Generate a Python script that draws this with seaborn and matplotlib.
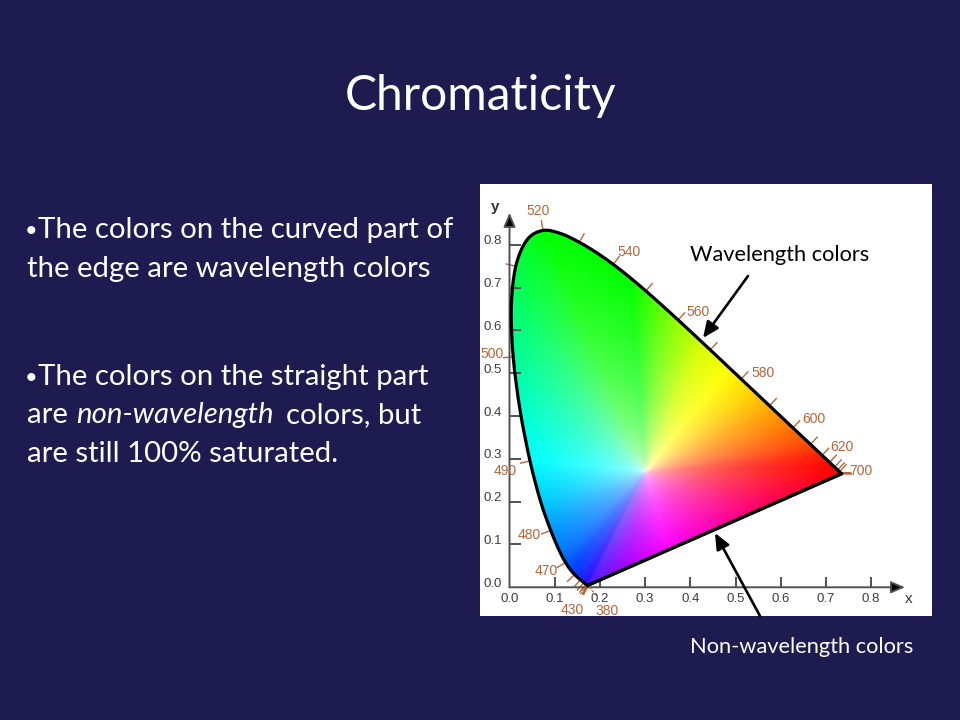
import numpy as np
import pandas as pd
import matplotlib
matplotlib.use('Agg')
import matplotlib.pyplot as plt
from matplotlib.path import Path
from matplotlib.patches import PathPatch, FancyArrowPatch
from matplotlib.colors import to_rgb
import seaborn as sns

# CIE 1931 spectral locus (x, y) every 5 nm
wavelengths = list(range(380, 705, 5))
locus_x = [0.1741, 0.1740, 0.1738, 0.1736, 0.1733, 0.1730, 0.1726, 0.1721, 0.1714, 0.1703,
           0.1689, 0.1669, 0.1644, 0.1611, 0.1566, 0.1510, 0.1440, 0.1355, 0.1241, 0.1096,
           0.0913, 0.0687, 0.0454, 0.0235, 0.0082, 0.0039, 0.0139, 0.0389, 0.0743, 0.1142,
           0.1547, 0.1929, 0.2296, 0.2658, 0.3016, 0.3373, 0.3731, 0.4087, 0.4441, 0.4788,
           0.5125, 0.5448, 0.5752, 0.6029, 0.6270, 0.6482, 0.6658, 0.6801, 0.6915, 0.7006,
           0.7079, 0.7140, 0.7190, 0.7230, 0.7260, 0.7283, 0.7300, 0.7311, 0.7320, 0.7327,
           0.7334, 0.7340, 0.7344, 0.7346, 0.7347]
locus_y = [0.0050, 0.0050, 0.0049, 0.0049, 0.0048, 0.0048, 0.0048, 0.0048, 0.0051, 0.0058,
           0.0069, 0.0086, 0.0109, 0.0138, 0.0177, 0.0227, 0.0297, 0.0399, 0.0578, 0.0868,
           0.1327, 0.2007, 0.2950, 0.4127, 0.5384, 0.6548, 0.7502, 0.8120, 0.8338, 0.8262,
           0.8059, 0.7816, 0.7543, 0.7243, 0.6923, 0.6589, 0.6245, 0.5896, 0.5547, 0.5202,
           0.4866, 0.4544, 0.4242, 0.3965, 0.3725, 0.3514, 0.3340, 0.3197, 0.3083, 0.2993,
           0.2920, 0.2859, 0.2809, 0.2770, 0.2740, 0.2717, 0.2700, 0.2689, 0.2680, 0.2673,
           0.2666, 0.2660, 0.2656, 0.2654, 0.2653]

# wavelengths that get a tick / a number on the curve
tick_waves = list(range(380, 701, 10))
label_waves = [380, 430, 470, 480, 490, 500, 520, 540, 560, 580, 600, 620, 700]
# label offsets in pixels (dx, dy)
label_offsets = {520: (-5, 19), 540: (16, 12), 560: (20, 8), 580: (22, 6), 600: (21, 9),
                 620: (20, 8), 700: (19, 3), 500: (-21, 3), 490: (-25, -10), 480: (-22, -5),
                 470: (-19, -8), 430: (-14, -26), 380: (19, -26)}

axis_ticks = [0.0, 0.1, 0.2, 0.3, 0.4, 0.5, 0.6, 0.7, 0.8]

# colours at the edge of the fan (700..800 = purple line from 700 back to 380)
fan_u = [380, 440, 465, 480, 490, 500, 510, 520, 545, 558, 568, 576, 584, 592, 602, 620,
         640, 700, 724, 751, 769, 786, 800]
fan_colors = ['#4d1aff', '#2610ff', '#0040ff', '#0099ff', '#00ffff', '#00ff99', '#00ff40',
              '#00ff00', '#00ff00', '#80ff00', '#d9ff00', '#ffff00', '#ffd500', '#ffa000',
              '#ff6a00', '#ff1f00', '#ff0000', '#ff0000', '#ff004d', '#ff00b3', '#ff00ff',
              '#a600ff', '#4d1aff']
white_pt = (0.30, 0.27)

navy = '#1d1b4f'
brown = '#b5653a'
axis_col = '#505050'

sns.set_style('white')
plt.rcParams['font.family'] = ['Lato', 'DejaVu Sans']

fig = plt.figure(figsize=(9.6, 7.2), dpi=100, facecolor=navy)


def fpos(px, py):
    return px / 960, 1 - py / 720


# white panel holding the diagram
ax = fig.add_axes([480 / 960, (720 - 616) / 720, 452 / 960, 432 / 720])
ax.set_facecolor('white')
for sp in ax.spines.values():
    sp.set_visible(False)

lx = np.array(locus_x)
ly = np.array(locus_y)
bx = np.append(lx, lx[0])
by = np.append(ly, ly[0])
bu = np.append(np.array(wavelengths, float), 800.0)

# smooth outline (Catmull-Rom as bezier), closed with the straight purple line
pts = np.c_[lx, ly]
verts = [pts[0]]
codes = [Path.MOVETO]
for k in range(len(pts) - 1):
    p0 = pts[max(k - 1, 0)]
    p1, p2 = pts[k], pts[k + 1]
    p3 = pts[min(k + 2, len(pts) - 1)]
    verts += [p1 + (p2 - p0) / 6, p2 - (p3 - p1) / 6, p2]
    codes += [Path.CURVE4] * 3
verts += [pts[0], pts[0]]
codes += [Path.LINETO, Path.CLOSEPOLY]
locus_path = Path(np.array(verts), codes)

# colour fan: each point blends white centre with the edge colour in its direction
cx, cy = white_pt
ang = np.unwrap(np.arctan2(by - cy, bx - cx))
phi = np.maximum.accumulate(ang[0] - ang)
gx = np.linspace(0, 0.76, 700)
gy = np.linspace(0, 0.86, 700)
X, Y = np.meshgrid(gx, gy)
dx, dy = X - cx, Y - cy
p_phi = np.mod(ang[0] - np.arctan2(dy, dx), 2 * np.pi)
i = np.clip(np.searchsorted(phi, p_phi, side='right') - 1, 0, len(bx) - 2)
Px, Py = bx[i], by[i]
ex, ey = bx[i + 1] - Px, by[i + 1] - Py
with np.errstate(divide='ignore', invalid='ignore'):
    s = (dx * ey - dy * ex) / ((Px - cx) * ey - (Py - cy) * ex)
    t = ((cx - Px) * dy - (cy - Py) * dx) / (ex * dy - ey * dx)
s = np.nan_to_num(s, nan=2.0, posinf=2.0, neginf=2.0)
t = np.clip(np.nan_to_num(t), 0, 1)
u = bu[i] + t * (bu[i + 1] - bu[i])
rgb = np.array([to_rgb(c) for c in fan_colors])
edge = np.stack([np.interp(u, fan_u, rgb[:, k]) for k in range(3)], -1)
f = np.clip(s, 0, 1) ** 0.4
img = 1 - f[..., None] * (1 - edge)
alpha = (s <= 1.08).astype(float)
im = ax.imshow(np.dstack([img, alpha]), origin='lower', extent=(0, 0.76, 0, 0.86),
               aspect='auto', interpolation='bilinear', zorder=1)
im.set_clip_path(locus_path, ax.transData)

# outline: curved part as a smooth path, straight part with seaborn
ax.add_patch(PathPatch(locus_path, facecolor='none', edgecolor='black', lw=2.3,
                       joinstyle='round', zorder=4))
purple = pd.DataFrame({'x': [lx[-1], lx[0]], 'y': [ly[-1], ly[0]]})
sns.lineplot(data=purple, x='x', y='y', sort=False, estimator=None, color='black',
             linewidth=2.3, ax=ax, zorder=4)

# wavelength ticks, perpendicular to the curve
sx, sy = 452.0, 428.0
for w in tick_waves:
    k = wavelengths.index(w)
    k0, k1 = max(k - 1, 0), min(k + 1, len(wavelengths) - 1)
    tx, ty = (lx[k1] - lx[k0]) * sx, (ly[k1] - ly[k0]) * sy
    nrm = np.hypot(tx, ty)
    if nrm < 1.5:
        nx, ny = (lx[k] - cx) * sx, (ly[k] - cy) * sy
    else:
        nx, ny = ty, -tx
        if nx * (lx[k] - cx) * sx + ny * (ly[k] - cy) * sy < 0:
            nx, ny = -nx, -ny
    n = np.hypot(nx, ny)
    nx, ny = nx / n, ny / n
    ax.plot([lx[k], lx[k] + nx * 10 / sx], [ly[k], ly[k] + ny * 10 / sy], color=brown,
            lw=1.0, zorder=2)

for w in label_waves:
    k = wavelengths.index(w)
    props = None
    if w in (380, 430):
        props = dict(arrowstyle='-', color=brown, lw=0.8, ls=(0, (2, 1.5)), shrinkA=5, shrinkB=1)
    ax.annotate(str(w), xy=(lx[k], ly[k]), xytext=label_offsets[w], textcoords='offset pixels',
                ha='center', va='center', color=brown, fontsize=10, family='Liberation Sans',
                arrowprops=props, zorder=5)

# axes with arrows
arrow = dict(arrowstyle='-|>,head_length=0.7,head_width=0.3', color=axis_col, lw=1.4,
             mutation_scale=12, shrinkA=0, shrinkB=0)
for tip in [(0.875, 0), (0, 0.875)]:
    a = ax.annotate('', xy=tip, xytext=(0, 0), arrowprops=arrow, zorder=3)
    a.arrow_patch.set_facecolor('black')
ax.vlines(axis_ticks[1:], 0, 0.025, color=axis_col, lw=1.4, zorder=3)
ax.hlines(axis_ticks[1:], 0, 0.025, color=axis_col, lw=1.4, zorder=3)
for v in axis_ticks:
    ax.text(v, -0.028, f'{v:.1f}', ha='center', va='center', fontsize=9.5,
            color='#3c3c3c', family='Liberation Sans')
    ax.text(-0.016, v + 0.008, f'{v:.1f}', ha='right', va='center', fontsize=9.5,
            color='#3c3c3c', family='Liberation Sans')
ax.text(0.884, -0.028, 'x', ha='center', va='center', fontsize=11, color='#333333',
        family='Liberation Sans')
ax.text(-0.032, 0.888, 'y', ha='center', va='center', fontsize=11, color='#333333',
        family='Liberation Sans', weight='bold')

ax.set_xlim(-0.0653, 0.9347)
ax.set_ylim(-0.0671, 0.9423)
ax.set_xticks([])
ax.set_yticks([])
ax.set_xlabel('')
ax.set_ylabel('')

renderer = fig.canvas.get_renderer()


def fit(txt, width_px):
    w = txt.get_window_extent(renderer).width
    txt.set_fontsize(txt.get_fontsize() * width_px / w)


# slide texts
title = fig.text(*fpos(481, 110), 'Chromaticity', ha='center', va='baseline',
                 color='white', fontsize=40)
fit(title, 272)

l1 = fig.text(*fpos(38, 238), 'The colors on the curved part of', color='white',
              fontsize=18, va='baseline')
fit(l1, 414)
fs = l1.get_fontsize()
for yb in (238, 385):
    fig.text(*fpos(31, yb - 7), '\u2022', color='white', fontsize=fs * 0.75, va='center',
             ha='center')
fig.text(*fpos(38, 385), 'The colors on the straight part', color='white', fontsize=fs,
         va='baseline')
fig.text(*fpos(27, 277), 'the edge are wavelength colors', color='white', fontsize=fs,
         va='baseline')
fig.text(*fpos(27, 462), 'are still 100% saturated.', color='white', fontsize=fs,
         va='baseline')

# mixed line with italic part
xpix = 27
for piece, style, gap in [('are', 'normal', 8), ('non-wavelength', 'italic', 13),
                          ('colors, but', 'normal', 0)]:
    tt = fig.text(*fpos(xpix, 423), piece, color='white', fontsize=fs, style=style,
                  va='baseline')
    xpix += tt.get_window_extent(renderer).width + gap

wl_txt = fig.text(*fpos(780, 255), 'Wavelength colors', color='black', ha='center',
                  va='center', fontsize=12)
fit(wl_txt, 179)
nw_txt = fig.text(*fpos(802, 647), 'Non-wavelength colors', color='white', ha='center',
                  va='center', fontsize=12)
fit(nw_txt, 224)

pointer = dict(arrowstyle='-|>,head_length=0.8,head_width=0.35', color='black', lw=1.9,
               mutation_scale=12, shrinkA=0, shrinkB=0)
fig.add_artist(FancyArrowPatch(fpos(748, 276), fpos(703, 338),
                               transform=fig.transFigure, **pointer))
fig.add_artist(FancyArrowPatch(fpos(760, 616), fpos(715, 533),
                               transform=fig.transFigure, **pointer))

fig.savefig('out.png', dpi=100, facecolor=navy)
